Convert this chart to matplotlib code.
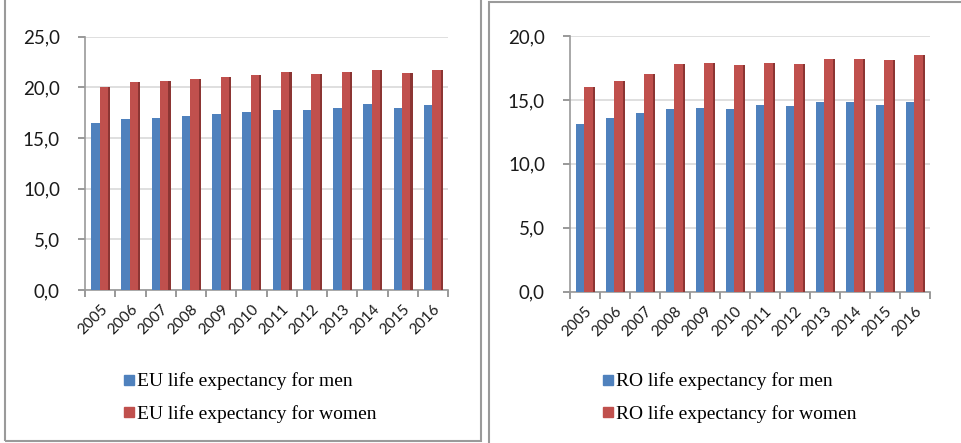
import numpy as np
import matplotlib.pyplot as plt
from matplotlib.patches import Rectangle
from matplotlib.lines import Line2D

years = ['2005', '2006', '2007', '2008', '2009', '2010', '2011', '2012', '2013', '2014', '2015', '2016']

eu_men = [16.5, 16.9, 17.0, 17.2, 17.4, 17.6, 17.8, 17.8, 18.0, 18.4, 18.0, 18.3]
eu_women = [20.0, 20.5, 20.6, 20.8, 21.0, 21.2, 21.5, 21.3, 21.5, 21.7, 21.4, 21.7]
ro_men = [13.1, 13.6, 14.0, 14.3, 14.4, 14.3, 14.6, 14.5, 14.8, 14.8, 14.6, 14.8]
ro_women = [16.0, 16.5, 17.0, 17.8, 17.9, 17.7, 17.9, 17.8, 18.2, 18.2, 18.1, 18.5]

BLUE = '#4F81BD'
RED = '#C0504D'
RED_D = '#8C3533'

W, H = 962, 443
fig = plt.figure(figsize=(W / 100, H / 100), dpi=100)


def px(x0, y0, x1, y1):
    # pixel box (top-left origin) -> figure fraction rect
    return [x0 / W, 1 - y1 / H, (x1 - x0) / W, (y1 - y0) / H]


def panel(rect, men, women, ymax, step, labels, leg_xy):
    ax = fig.add_axes(rect)
    x = np.arange(len(years))
    w = 0.28
    ax.bar(x - 0.3, men, width=w, align='edge', color=BLUE, zorder=3)
    ax.bar(x - 0.02, women, width=w, align='edge', color=RED, zorder=3)
    # darker side face for a bit of depth
    ax.bar(x + 0.26, women, width=0.07, align='edge', color=RED_D, zorder=3)

    ax.set_xlim(-0.5, len(years) - 0.5)
    ax.set_ylim(0, ymax)
    ticks = np.arange(0, ymax + 0.1, step)
    ax.set_yticks(ticks)
    ax.set_yticklabels([f'{v:.1f}'.replace('.', ',') for v in ticks],
                       family='Lato', fontsize=13.5, color='#1a1a1a')
    ax.set_xticks(x)
    ax.set_xticklabels(years, rotation=45, ha='right', rotation_mode='anchor',
                       family='Lato', fontsize=11, color='#1a1a1a')
    ax.set_xticks(np.arange(-0.5, len(years)), minor=True)
    ax.tick_params(axis='x', which='major', length=0, pad=9)
    ax.tick_params(axis='x', which='minor', length=5, color='#888888', width=1.2)
    ax.tick_params(axis='y', length=5, color='#888888', width=1.2, pad=13)

    ax.grid(axis='y', color='#d9d9d9', linewidth=1.2, zorder=0)
    for s in ['top', 'right']:
        ax.spines[s].set_visible(False)
    for s in ['left', 'bottom']:
        ax.spines[s].set_color('#999999')
        ax.spines[s].set_linewidth(1.2)

    handles = [Line2D([], [], marker='s', linestyle='none', markersize=7, color=c) for c in (BLUE, RED)]
    fig.legend(handles, labels, loc='upper left', bbox_to_anchor=(leg_xy[0] / W, 1 - leg_xy[1] / H),
               frameon=False, handlelength=0.6, handletextpad=0.1, labelspacing=0.75,
               prop={'family': 'Liberation Serif', 'size': 14})
    return ax


panel(px(85, 36.7, 448, 290), eu_men, eu_women, 25, 5,
      ['EU life expectancy for men', 'EU life expectancy for women'], (106, 355))
panel(px(570, 36, 930, 291.7), ro_men, ro_women, 20, 5,
      ['RO life expectancy for men', 'RO life expectancy for women'], (585, 355))

# panel frames
fig.add_artist(Rectangle((5 / W, 1 - 441 / H), 476 / W, 441 / H + 0.05, transform=fig.transFigure,
                         fill=False, edgecolor='#9a9a9a', linewidth=1.5))
fig.add_artist(Rectangle((489 / W, -0.05), 480 / W, 1 - 1.5 / H + 0.05, transform=fig.transFigure,
                         fill=False, edgecolor='#9a9a9a', linewidth=1.5))

plt.savefig('out.png', dpi=100)
